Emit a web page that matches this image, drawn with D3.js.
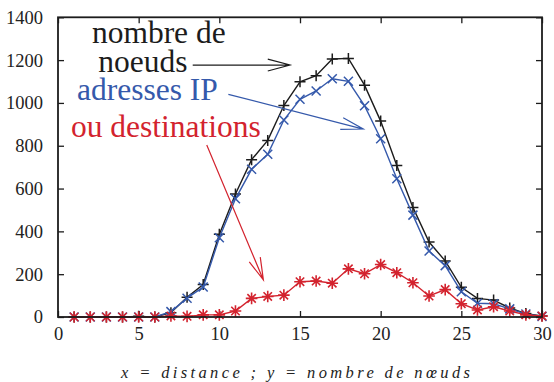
<!DOCTYPE html>
<html>
<head>
<meta charset="utf-8">
<script src="https://cdn.jsdelivr.net/npm/d3@7"></script>
<style>
  html, body { margin: 0; padding: 0; background: #fff; }
  svg { display: block; }
  svg text { font-family: "Liberation Serif", "Times New Roman", Times, "DejaVu Serif", serif; }
</style>
</head>
<body>
<svg id="chart" width="554" height="382"></svg>
<script>
// distance (hops)
const distances = d3.range(1, 31);
// number of nodes at each distance
const nodes = [0, 0, 0, 0, 3, 0, 20, 92, 152, 386, 575, 735, 825, 988, 1099,
               1127, 1205, 1208, 1083, 915, 708, 512, 350, 262, 139, 87, 79, 42, 16, 5];
// distinct IP addresses
const ipAddresses = [0, 0, 0, 0, 0, 0, 25, 88, 140, 370, 552, 690, 760, 920, 1017,
                     1056, 1113, 1101, 987, 833, 646, 476, 308, 240, 118, 64, 62, 38, 14, 3];
// destinations
const destinations = [0, 0, 0, 0, 0, 0, 5, 3, 10, 10, 28, 87, 96, 102, 165,
                      168, 158, 225, 202, 245, 207, 160, 98, 128, 62, 33, 48, 28, 10, 5];

const xTicks = [0, 5, 10, 15, 20, 25, 30];
const yTicks = [0, 200, 400, 600, 800, 1000, 1200, 1400];

const colBlack = "#1c1c1c", colBlue = "#3559ab", colRed = "#d3232e";
const serif = "'Liberation Serif', 'Times New Roman', Times, 'DejaVu Serif', serif";

const svg = d3.select("#chart");
const x = d3.scaleLinear().domain([0, 30]).range([58, 542]);
const y = d3.scaleLinear().domain([0, 1400]).range([317, 17.3]);

// ticks on all four sides, pointing inward
const tickLen = 6;
const fmt = d3.format("d");
const g = svg.append("g");
g.append("g").attr("transform", `translate(0,${y(0)})`)
  .call(d3.axisBottom(x).tickValues(xTicks).tickFormat(fmt).tickSizeInner(-tickLen).tickSizeOuter(0).tickPadding(10))
  .call(a => a.select(".domain").remove());
g.append("g").attr("transform", `translate(0,${y(1400)})`)
  .call(d3.axisTop(x).tickValues(xTicks).tickSizeInner(-tickLen).tickSizeOuter(0).tickFormat(""))
  .call(a => a.select(".domain").remove());
g.append("g").attr("transform", `translate(${x(0)},0)`)
  .call(d3.axisLeft(y).tickValues(yTicks).tickFormat(fmt).tickSizeInner(-tickLen).tickSizeOuter(0).tickPadding(15))
  .call(a => a.select(".domain").remove());
g.append("g").attr("transform", `translate(${x(30)},0)`)
  .call(d3.axisRight(y).tickValues(yTicks).tickSizeInner(-tickLen).tickSizeOuter(0).tickFormat(""))
  .call(a => a.select(".domain").remove());
g.selectAll("g").attr("font-family", serif);
g.selectAll(".tick line").attr("stroke", colBlack).attr("stroke-width", 1.3);
g.selectAll(".tick text")
  .attr("fill", "#222").attr("font-size", "18.5px")
  .style("font-family", serif);

// series
const line = d3.line().x((d, i) => x(distances[i])).y(d => y(d));

function cross(s) {
  return `M${-s},${-s}L${s},${s}M${-s},${s}L${s},${-s}`;
}

function drawSeries(values, color, markerPath, width) {
  svg.append("path").datum(values)
    .attr("d", line).attr("fill", "none")
    .attr("stroke", color).attr("stroke-width", 1.4);
  svg.append("g").selectAll("path").data(values).join("path")
    .attr("transform", (d, i) => `translate(${x(distances[i])},${y(d)})`)
    .attr("d", markerPath)
    .attr("fill", "none").attr("stroke", color).attr("stroke-width", width);
}

drawSeries(nodes, colBlack, `M-5.5,0H5.5M0,-5.5V5.5`, 1.5);
drawSeries(ipAddresses, colBlue, cross(4.5), 1.5);
drawSeries(destinations, colRed, cross(4.2) + `M-5.8,0H5.8M0,-5.8V5.8`, 1.6);

// frame
svg.append("rect")
  .attr("x", x(0)).attr("y", y(1400))
  .attr("width", x(30) - x(0)).attr("height", y(0) - y(1400))
  .attr("fill", "none").attr("stroke", colBlack).attr("stroke-width", 1.8);

// annotations: labels and open arrows pointing at each curve
const labels = [
  { text: "nombre de", x: 2.1, y: 1280, color: colBlack },
  { text: "noeuds", x: 2.5, y: 1145, color: colBlack },
  { text: "adresses IP", x: 1.18, y: 1013, color: colBlue },
  { text: "ou destinations", x: 0.8, y: 842, color: colRed }
];
svg.append("g").selectAll("text").data(labels).join("text")
  .attr("x", d => x(d.x)).attr("y", d => y(d.y))
  .attr("fill", d => d.color)
  .attr("font-size", "31.5px")
  .style("font-family", serif)
  .text(d => d.text);

const arrows = [
  { x1: 8.35, y1: 1177, x2: 14.38, y2: 1177, color: colBlack },
  { x1: 10.56, y1: 1040, x2: 18.92, y2: 878, color: colBlue },
  { x1: 9.22, y1: 803, x2: 12.73, y2: 173, color: colRed }
];
const headLen = 23, headAng = 15 * Math.PI / 180;
arrows.forEach(a => {
  const sx = x(a.x1), sy = y(a.y1), tx = x(a.x2), ty = y(a.y2);
  const ang = Math.atan2(ty - sy, tx - sx) + Math.PI;
  const b1 = [tx + headLen * Math.cos(ang - headAng), ty + headLen * Math.sin(ang - headAng)];
  const b2 = [tx + headLen * Math.cos(ang + headAng), ty + headLen * Math.sin(ang + headAng)];
  const p = d3.path();
  p.moveTo(sx, sy); p.lineTo(tx, ty);
  p.moveTo(b1[0], b1[1]); p.lineTo(tx, ty); p.lineTo(b2[0], b2[1]);
  svg.append("path").attr("d", p.toString())
    .attr("fill", "none").attr("stroke", a.color).attr("stroke-width", 1.2);
});

// axis caption
svg.append("text")
  .attr("x", 121).attr("y", 377.5)
  .attr("font-size", "16.5px").attr("font-style", "italic")
  .attr("fill", "#222")
  .style("font-family", serif)
  .attr("textLength", 349).attr("lengthAdjust", "spacing")
  .text("x = distance ; y = nombre de nœuds");
</script>
</body>
</html>
